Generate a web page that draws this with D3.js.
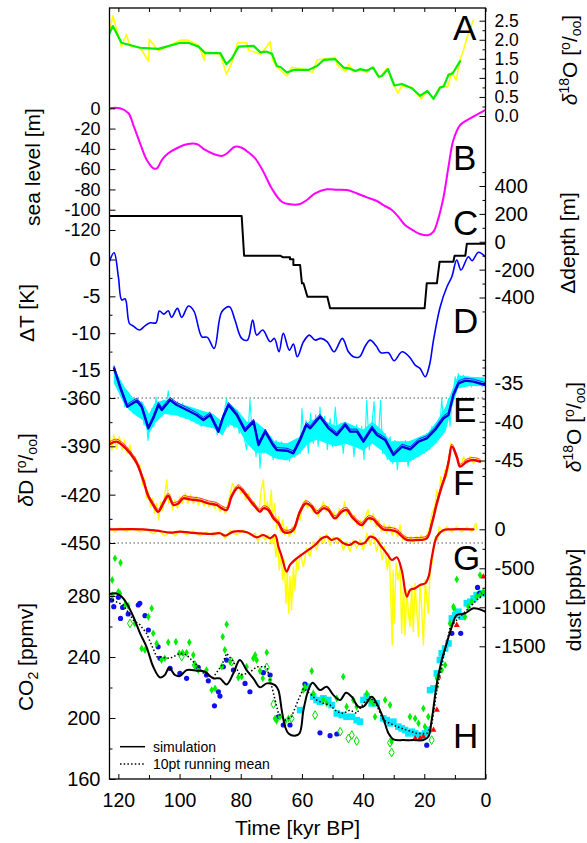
<!DOCTYPE html>
<html>
<head>
<meta charset="utf-8">
<script src="https://cdn.jsdelivr.net/npm/d3@7/dist/d3.min.js"></script>
<style>
html,body{margin:0;padding:0;background:#fff;}
svg{display:block;font-family:"Liberation Sans",Arial,Helvetica,sans-serif;}
</style>
</head>
<body>
<svg id="chart" width="587" height="843"></svg>
<script>
// ---------------- DATA ----------------
const timeTicks=[120,100,80,60,40,20,0];
const timeMinor=[110,90,70,50,30,10];
const benthicTicks=[0,0.5,1,1.5,2,2.5];
const benthicMinor=[0.25,0.75,1.25,1.75,2.25];
const seaTicks=[0,-20,-40,-60,-80,-100,-120];
const depthTicks=[400,200,0,-200,-400];
const depthMinor=[500,300,100,-100,-300,-500];
const tempTicks=[0,-5,-10,-15];
const tempMinor=[-2.5,-7.5,-12.5];
const d18OTicks=[-35,-40,-45];
const d18OMinor=[-32,-33,-34,-36,-37,-38,-39,-41,-42,-43,-44,-46,-47];
const dDTicks=[-360,-390,-420,-450];
const dDMinor=[-375,-405,-435];
const dustTicks=[0,-500,-1000,-1500];
const dustMinor=[-250,-750,-1250];
const co2Ticks=[160,200,240,280];
const co2Minor=[180,220,260];
const refLinesDD=[-360,-450];
const panelLetters=["A","B","C","D","E","F","G","H"];

// A: benthic d18O (raw, smoothed) [kyr BP, permil]
const benthicRaw=[[122.9,2.21],[121.8,2.63],[119.0,1.82],[117.4,2.14],[116.2,1.84],[112.9,1.79],[110.1,1.44],[109.9,2.01],[106.9,1.71],[99.8,1.99],[97.1,1.99],[93.8,1.86],[91.9,1.47],[91.6,1.69],[86.7,1.62],[84.7,1.10],[83.2,1.34],[81.0,1.92],[78.0,1.92],[77.5,1.73],[73.6,1.62],[71.5,1.82],[70.4,1.95],[69.6,1.47],[68.2,1.29],[64.9,1.05],[63.3,1.28],[58.4,1.21],[56.5,1.14],[55.1,1.47],[49.1,1.54],[48.5,1.34],[45.7,1.16],[44.7,1.36],[43.2,1.16],[40.9,1.21],[38.7,1.15],[37.1,1.29],[34.7,0.99],[32.3,1.25],[28.7,0.60],[27.3,0.79],[24.1,0.75],[21.1,0.45],[19.0,0.64],[17.0,0.45],[15.2,0.73],[13.7,0.81],[12.4,0.75],[11.0,1.16],[9.6,0.94],[8.3,1.47],[7.2,1.73],[5.6,2.17],[3.9,2.52]];
const benthicSmooth=[[122.9,2.17],[121.8,2.36],[119.0,1.92],[112.9,1.79],[106.9,1.76],[99.8,1.92],[97.1,1.92],[93.8,1.82],[91.6,1.65],[86.7,1.65],[84.7,1.36],[82.9,1.51],[80.7,1.82],[75.8,1.84],[73.6,1.67],[71.7,1.69],[69.8,1.63],[68.2,1.31],[66.9,1.28],[64.9,1.14],[62.7,1.21],[57.8,1.21],[55.1,1.31],[52.9,1.47],[49.1,1.49],[46.4,1.27],[44.7,1.25],[42.5,1.18],[40.9,1.23],[38.9,1.19],[36.7,1.27],[34.9,1.03],[33.9,1.05],[31.9,1.23],[29.8,0.80],[27.3,0.84],[24.1,0.73],[21.4,0.53],[19.0,0.66],[17.0,0.45],[14.8,0.75],[13.7,0.77],[12.1,1.08],[10.7,1.12],[8.3,1.44]];

// B: sea level [m]
const seaLevel=[[122.9,0],[119.5,0],[116.7,-4.9],[115.1,-16.5],[112.9,-34.5],[110.7,-51],[108.5,-59.2],[107.4,-59.2],[105.8,-51],[103.7,-44.4],[100.9,-39.4],[97.6,-35.5],[94.4,-35.2],[91.6,-41.1],[88.9,-45.1],[86.2,-47],[84.5,-44.4],[81.9,-37.9],[79.7,-38.9],[77.5,-43.4],[75.3,-49.3],[72.6,-62.5],[69.9,-78.9],[66.6,-92.1],[63.9,-94.7],[60.6,-94.4],[58.4,-90.4],[55.7,-83.8],[51.9,-79.9],[48.6,-80.2],[45.3,-80.6],[42.1,-83.8],[38.8,-87.8],[35.5,-91.4],[33.4,-95.4],[30.6,-100.3],[28.5,-106.9],[26.3,-115.1],[23.5,-120.7],[21.4,-124],[18.6,-125],[17.0,-121.7],[15.4,-108.5],[13.7,-87.2],[12.1,-57.6],[10.5,-31.3],[8.3,-16.5],[5.0,-9.9],[0.1,-1.7]];

// C: delta depth [m]
const depthC=[[122.9,185],[79.7,185],[78.9,-100],[67.1,-100],[66.3,-111],[63.9,-111],[63.9,-126],[62.8,-126],[62.8,-167],[60.6,-167],[60.0,-298],[59.5,-298],[58.2,-394],[51.7,-394],[50.8,-477],[19.9,-477],[19.2,-298],[15.9,-298],[15.0,-143],[10.5,-143],[10.1,-100],[6.6,-100],[6.1,-15],[0,-15]];

// D: delta T [K]
const tempD=[[122.96,-0.30],[121.4,0.92],[120.0,-2.34],[118.9,-5.50],[117.8,-5.33],[116.4,-8.67],[115.1,-9.04],[113.1,-9.58],[111.4,-9.04],[109.6,-8.59],[107.7,-8.59],[106.6,-7.00],[105.1,-7.41],[103.7,-6.96],[102.6,-7.85],[100.7,-6.63],[99.3,-7.85],[97.1,-6.32],[95.3,-7.00],[92.7,-10.49],[90.9,-10.57],[88.7,-12.07],[86.2,-7.09],[83.7,-6.41],[81.9,-8.22],[79.7,-10.71],[77.8,-10.94],[76.1,-8.22],[74.8,-10.26],[72.8,-9.58],[70.4,-11.17],[69.0,-10.71],[67.5,-12.53],[66.1,-10.03],[64.1,-12.30],[62.8,-11.48],[61.5,-13.21],[59.5,-11.17],[57.6,-10.26],[55.7,-10.94],[53.8,-10.71],[51.7,-11.17],[49.5,-12.53],[46.8,-10.71],[44.8,-12.53],[43.2,-13.21],[41.2,-13.21],[39.3,-11.75],[37.7,-10.94],[35.7,-11.75],[34.2,-12.66],[31.7,-12.66],[29.9,-13.75],[27.3,-12.53],[24.9,-13.21],[23.0,-14.33],[21.4,-14.78],[19.7,-15.92],[18.3,-14.33],[17.0,-10.94],[14.8,-6.41],[12.6,-3.70],[11.0,-2.34],[9.4,-0.07],[8.0,-1.43],[5.6,0.38],[4.4,-0.16],[2.3,0.98],[0.1,0.38]];

// E: ice-core d18O raw (cyan), dense band of raw data [t, upper, lower], model (blue)
const d18ORaw=[[121.7,-32.9],[121.1,-34.0],[120.6,-33.8],[120.0,-35.3],[119.5,-35.0],[118.9,-36.3],[118.4,-35.9],[117.9,-38.1],[117.3,-36.8],[116.4,-38.5],[115.7,-37.2],[114.9,-38.9],[114.0,-37.0],[113.2,-39.3],[112.4,-37.4],[111.6,-40.4],[111.0,-39.3],[110.3,-42.4],[109.7,-39.8],[109.0,-38.3],[108.4,-40.6],[107.7,-36.8],[107.1,-38.9],[106.4,-37.4],[105.8,-39.3],[105.1,-37.2],[104.5,-38.5],[103.7,-36.0],[102.9,-38.5],[102.3,-37.0],[101.5,-39.1],[100.7,-37.4],[99.9,-39.3],[99.0,-37.6],[98.1,-39.6],[97.3,-38.1],[96.4,-39.8],[95.5,-38.3],[94.6,-40.2],[93.8,-38.5],[92.9,-40.6],[92.0,-39.1],[91.2,-40.4],[90.3,-38.7],[89.4,-40.8],[88.5,-39.3],[87.7,-41.7],[86.8,-40.0],[85.9,-41.5],[85.3,-38.5],[84.6,-37.0],[84.0,-40.6],[83.1,-38.9],[82.2,-40.8],[81.3,-38.5],[80.5,-41.5],[79.6,-39.8],[78.7,-42.4],[78.1,-43.6],[77.4,-40.2],[77.0,-37.1],[76.3,-41.5],[75.7,-39.8],[75.0,-44.5],[74.4,-40.6],[73.7,-46.0],[73.1,-42.4],[72.4,-44.1],[71.7,-41.3],[71.0,-43.9],[70.2,-41.9],[69.4,-44.9],[68.5,-42.4],[67.6,-44.7],[66.7,-42.6],[65.9,-44.9],[65.0,-42.8],[64.1,-45.1],[63.2,-43.0],[62.4,-44.5],[61.5,-42.4],[60.6,-44.1],[60.0,-38.3],[59.3,-42.8],[58.7,-39.8],[57.9,-44.1],[57.2,-38.9],[56.3,-42.8],[55.5,-39.1],[54.7,-43.2],[54.1,-38.1],[53.3,-42.4],[52.6,-39.3],[51.7,-43.6],[50.8,-39.6],[50.0,-43.2],[49.1,-38.1],[48.2,-42.4],[47.3,-40.2],[46.5,-44.1],[45.6,-40.4],[44.7,-42.8],[43.8,-40.6],[43.0,-44.5],[42.1,-40.4],[41.2,-43.2],[40.5,-40.6],[39.7,-44.9],[38.8,-37.2],[38.0,-43.6],[37.2,-40.6],[36.4,-37.4],[35.8,-42.4],[34.9,-41.3],[34.3,-37.2],[33.6,-44.1],[32.8,-41.5],[32.1,-44.9],[31.2,-41.9],[30.3,-45.4],[29.6,-42.4],[28.8,-46.2],[27.9,-42.8],[27.1,-44.9],[26.2,-42.4],[25.3,-45.8],[24.4,-43.0],[23.6,-44.9],[22.7,-42.6],[21.8,-44.5],[21.0,-41.9],[20.1,-44.1],[19.2,-41.5],[18.3,-43.6],[17.5,-40.6],[16.6,-42.8],[15.9,-40.2],[15.1,-41.9],[14.3,-37.0],[13.5,-41.1],[12.9,-38.5],[12.1,-37.0],[11.6,-40.6],[11.0,-37.6],[10.5,-35.9],[9.9,-34.2],[9.4,-35.5],[8.9,-33.8],[8.1,-35.0],[7.2,-34.0],[6.3,-35.3],[5.5,-34.2],[4.6,-35.5],[3.7,-34.3],[2.9,-35.4],[2.0,-34.4],[1.1,-35.5],[0.3,-34.6]];
const d18OBand=[[121.5,-33.0,-35.0],[118,-35.5,-37.8],[115,-37.0,-39.0],[112,-37.5,-39.8],[110,-39.0,-41.5],[108,-37.5,-40.2],[105,-37.2,-39.0],[101,-37.5,-39.2],[97,-38.0,-39.7],[93,-38.5,-40.5],[89,-39.0,-40.8],[86,-40.0,-41.8],[84,-37.5,-40.3],[81,-38.5,-40.8],[78,-40.0,-42.8],[75,-40.0,-44.0],[72,-41.0,-44.0],[69,-42.5,-44.7],[65,-42.8,-45.0],[61,-42.0,-44.2],[58,-40.0,-42.8],[55,-39.5,-42.3],[52,-40.0,-42.8],[49,-40.5,-43.2],[46,-40.0,-42.8],[43,-40.5,-43.2],[40,-41.0,-43.7],[37,-40.0,-42.8],[34,-41.0,-43.7],[31,-42.5,-45.2],[28,-42.5,-45.2],[25,-42.5,-45.2],[22,-42.0,-44.5],[19,-41.5,-43.8],[16,-40.0,-42.7],[13,-38.0,-41.2],[11,-36.0,-38.2],[9,-34.0,-35.7],[5,-34.2,-35.4],[0.3,-34.3,-35.4]];
const d18OModel=[[121.4,-33.10],[119.5,-35.48],[117.1,-38.06],[114.0,-37.28],[112.4,-38.06],[110.2,-40.85],[108.6,-39.55],[106.9,-37.84],[105.8,-38.48],[103.1,-37.19],[100.9,-37.84],[97.6,-38.48],[94.4,-39.13],[92.2,-39.77],[90.0,-39.13],[87.3,-41.28],[85.7,-39.35],[84.0,-37.84],[81.3,-39.13],[78.6,-41.15],[75.8,-39.99],[74.2,-43.00],[72.0,-41.28],[69.5,-43.00],[68.2,-43.65],[64.9,-43.74],[62.8,-44.07],[60.6,-42.35],[58.6,-40.42],[57.3,-40.85],[54.1,-39.35],[51.3,-40.85],[48.6,-41.71],[45.9,-40.42],[44.2,-41.28],[42.0,-41.28],[39.9,-42.57],[37.1,-40.85],[35.5,-41.71],[32.8,-42.35],[30.1,-44.29],[27.3,-43.22],[24.6,-43.55],[21.9,-42.57],[19.2,-42.14],[16.5,-41.06],[13.7,-39.55],[12.1,-39.13],[10.5,-36.55],[8.8,-35.04],[6.6,-34.70],[3.9,-34.83],[0.1,-35.26]];

// F: deuterium raw (yellow) and model (red)
const dDRaw=[[122.8,-385.0],[122.1,-392.3],[121.5,-383.0],[120.6,-391.3],[119.7,-384.0],[118.8,-392.3],[118.0,-386.1],[117.1,-394.4],[116.2,-389.2],[115.4,-397.5],[114.5,-396.4],[113.6,-402.6],[113.0,-401.6],[112.1,-414.0],[111.4,-409.9],[110.8,-422.3],[110.1,-418.1],[109.5,-427.5],[108.8,-422.3],[108.2,-431.6],[107.5,-425.4],[106.8,-435.7],[106.2,-424.4],[105.5,-429.5],[104.9,-421.3],[104.2,-410.9],[103.6,-425.4],[102.9,-420.2],[102.3,-429.5],[101.6,-423.3],[100.7,-428.5],[99.9,-421.3],[99.0,-425.4],[98.1,-419.2],[97.3,-425.4],[96.4,-420.2],[95.5,-425.4],[94.6,-421.3],[93.8,-426.4],[92.9,-422.3],[92.0,-427.0],[91.2,-423.3],[90.3,-427.5],[89.4,-424.4],[88.5,-428.5],[87.7,-425.4],[86.8,-430.6],[85.9,-427.5],[85.0,-431.6],[84.2,-425.4],[83.5,-420.2],[82.7,-413.0],[81.8,-417.1],[80.9,-414.0],[80.0,-419.2],[79.2,-416.1],[78.3,-423.3],[77.4,-419.2],[76.5,-426.4],[75.7,-424.4],[74.8,-429.5],[73.9,-427.5],[73.3,-417.1],[72.6,-410.9],[72.0,-429.5],[71.3,-424.4],[70.7,-431.6],[70.0,-417.1],[69.6,-435.7],[68.9,-425.4],[68.3,-440.9],[67.6,-433.7],[67.0,-443.0],[66.3,-435.7],[65.6,-445.0],[65.0,-439.9],[64.1,-446.1],[63.2,-439.9],[62.4,-444.0],[61.5,-433.7],[60.6,-435.7],[59.8,-426.4],[58.9,-423.3],[58.2,-428.5],[57.4,-425.4],[56.5,-430.6],[55.6,-427.5],[54.7,-433.7],[53.9,-428.5],[53.0,-424.4],[52.1,-430.6],[51.3,-427.5],[50.4,-432.6],[49.5,-430.6],[48.6,-435.7],[47.8,-428.5],[46.9,-431.6],[46.0,-424.4],[45.4,-432.6],[44.5,-429.5],[43.6,-435.7],[42.8,-432.6],[41.9,-438.8],[41.0,-435.7],[40.1,-440.9],[39.3,-433.7],[38.4,-429.5],[37.5,-436.8],[36.7,-431.6],[35.8,-439.9],[34.9,-435.7],[34.0,-443.0],[33.2,-437.8],[32.3,-444.0],[31.4,-438.8],[30.5,-445.0],[29.7,-439.9],[28.8,-446.1],[27.9,-438.8],[27.1,-448.1],[26.2,-445.0],[25.3,-449.2],[24.4,-446.1],[23.6,-449.8],[22.7,-446.1],[21.8,-449.2],[21.0,-445.0],[20.1,-448.6],[19.2,-445.0],[18.3,-440.9],[17.5,-431.6],[16.6,-427.5],[15.9,-417.1],[15.3,-423.3],[14.6,-408.8],[14.0,-414.0],[13.3,-404.7],[12.7,-408.8],[12.0,-400.6],[11.4,-388.1],[10.5,-391.2],[9.6,-396.4],[8.9,-398.5],[8.1,-402.6],[7.2,-396.4],[6.1,-400.6],[5.0,-396.4],[3.9,-400.6],[2.9,-397.5],[1.2,-399.5]];
const dDModel=[[122.7,-388.5],[120.6,-387.1],[118.4,-389.8],[116.2,-394.3],[114.0,-400.5],[111.9,-410.9],[110.2,-421.2],[108.6,-426.4],[107.0,-430.6],[105.3,-425.4],[103.7,-420.8],[102.0,-426.4],[100.4,-425.4],[98.8,-422.3],[96.6,-422.9],[93.3,-423.7],[90.6,-425.4],[87.9,-426.4],[86.2,-428.5],[84.6,-429.5],[83.0,-421.3],[80.8,-415.5],[79.2,-418.1],[77.5,-422.3],[75.3,-427.5],[73.7,-430.6],[72.6,-428.5],[71.0,-429.5],[69.3,-434.7],[67.7,-437.8],[66.1,-443.0],[64.4,-443.6],[62.8,-441.9],[60.6,-430.6],[58.7,-425.4],[56.8,-427.5],[55.2,-431.6],[53.0,-428.5],[51.4,-429.5],[49.2,-434.7],[47.0,-430.6],[45.4,-429.5],[43.7,-433.7],[42.1,-436.8],[40.5,-438.8],[38.3,-434.7],[36.7,-435.3],[35.0,-438.8],[33.4,-441.5],[31.2,-441.9],[29.0,-443.0],[27.4,-445.7],[25.7,-448.1],[22.5,-448.1],[19.2,-447.1],[17.5,-437.8],[15.9,-425.4],[14.3,-415.0],[13.2,-408.8],[12.1,-400.0],[11.0,-390.2],[9.4,-396.5],[8.3,-402.6],[6.1,-399.5],[3.9,-398.5],[1.8,-399.5]];

// G: dust raw (yellow) and model (red) [ppbv]
const dustRaw=[[122.8,25],[121.1,-34],[119.5,17],[117.3,-26],[115.1,13],[112.9,-34],[110.8,0],[108.6,-60],[107.0,-9],[104.8,-85],[103.1,-26],[101.5,-85],[99.9,-17],[97.7,-73],[95.5,-21],[93.3,-85],[91.2,-34],[89.0,-85],[86.8,-30],[85.1,-115],[83.5,-17],[81.3,-73],[79.2,-9],[77.0,-73],[75.3,-51],[74.3,-158],[73.2,-51],[72.1,-137],[71.0,-73],[69.9,-188],[69.1,-73],[68.5,-350],[67.9,-158],[67.4,-521],[66.8,-308],[66.3,-649],[65.8,-393],[65.2,-948],[64.8,-521],[64.3,-1076],[63.9,-606],[63.4,-1033],[62.8,-478],[62.3,-777],[61.7,-393],[61.2,-521],[60.6,-308],[59.5,-478],[58.5,-244],[57.4,-350],[56.3,-158],[55.2,-265],[54.1,-94],[53.0,-179],[51.9,-60],[50.8,-201],[49.7,-94],[48.6,-179],[47.5,-115],[46.5,-265],[45.4,-158],[44.3,-286],[43.2,-137],[42.1,-244],[41.0,-137],[39.9,-265],[38.8,-51],[37.7,-201],[36.7,-51],[35.6,-286],[34.7,-115],[33.8,-393],[33.0,-222],[32.1,-521],[31.4,-308],[30.5,-1483],[30.2,-521],[29.9,-1205],[29.2,-436],[28.6,-649],[27.9,-478],[27.4,-1333],[26.8,-692],[26.3,-1354],[25.7,-777],[25.2,-1076],[24.7,-1248],[24.1,-734],[23.6,-1312],[23.0,-692],[22.5,-1033],[21.9,-1376],[21.4,-713],[20.9,-991],[20.3,-1483],[19.7,-649],[19.2,-905],[18.7,-1077],[18.1,-521],[17.5,-436],[16.8,-222],[16.4,-94],[15.7,-137],[15.1,34],[13.7,-43],[12.7,34],[11.0,-34],[9.4,34],[7.8,-34],[6.1,26],[4.5,-30],[3.1,77],[2.9,0]];
const dustModel=[[122.9,0],[111.8,0],[107.5,-17],[103.1,-43],[99.8,-30],[96.6,-43],[93.3,-51],[90.0,-60],[86.8,-51],[85.1,-81],[82.4,-30],[78.0,-38],[74.8,-103],[72.6,-73],[70.4,-115],[68.8,-73],[67.7,-222],[66.6,-350],[65.0,-542],[63.9,-457],[61.7,-372],[59.5,-308],[57.9,-265],[55.7,-201],[53.5,-115],[51.9,-94],[50.3,-137],[48.6,-115],[46.4,-179],[44.3,-201],[42.6,-158],[41.0,-188],[39.4,-171],[37.7,-94],[36.1,-115],[34.4,-201],[32.3,-308],[30.6,-393],[29.0,-359],[27.4,-521],[25.7,-863],[24.6,-777],[23.0,-756],[21.4,-713],[19.7,-692],[18.6,-606],[17.5,-350],[15.9,-94],[13.7,-9],[11.5,0],[3.9,0]];

// H: CO2 [ppmv]
const co2Sim=[[123.0,281.3],[120.6,281.7],[118.9,279.5],[117.3,275.2],[115.1,266.4],[112.9,255.5],[110.8,246.7],[108.6,233.6],[106.4,226.6],[104.8,228.2],[103.4,233.0],[101.5,228.2],[99.9,227.5],[97.7,231.4],[94.4,231.0],[91.7,230.3],[89.0,226.0],[86.8,226.0],[84.6,222.0],[82.4,229.3],[80.3,238.0],[78.1,231.4],[75.9,226.0],[73.7,220.1],[71.5,222.7],[68.8,221.6],[67.7,218.3],[66.6,205.2],[65.5,194.3],[64.4,189.9],[62.3,188.4],[60.8,189.9],[59.5,205.2],[57.9,218.3],[56.5,223.1],[54.1,218.3],[51.9,220.5],[49.7,215.0],[47.5,211.8],[45.6,216.6],[43.7,213.9],[41.6,207.4],[39.9,207.4],[37.2,213.9],[35.6,209.6],[33.4,199.7],[31.7,189.9],[30.1,186.0],[26.8,185.5],[23.6,185.5],[20.3,185.5],[18.7,187.7],[17.6,198.6],[15.9,222.7],[14.3,238.0],[12.7,248.9],[11.0,259.9],[9.4,267.5],[6.7,268.6],[3.9,271.9],[0.1,269.7]];
const co2Mean=[[123.0,278.4],[118.4,274.1],[115.1,264.2],[112.9,261.0],[110.8,255.5],[107.5,240.2],[103.1,239.1],[99.9,242.4],[97.7,241.3],[94.4,234.7],[91.7,228.2],[89.0,226.6],[86.2,234.7],[84.6,242.4],[82.4,236.9],[80.3,228.2],[77.5,229.3],[74.8,233.6],[71.5,233.6],[69.3,216.1],[67.7,203.0],[65.5,198.6],[63.4,200.8],[61.2,211.8],[59.5,219.4],[57.4,216.1],[55.2,211.8],[53.0,209.6],[50.8,208.5],[48.6,204.1],[46.5,203.0],[44.3,205.2],[42.1,203.0],[39.9,209.6],[37.7,213.9],[35.6,208.5],[33.4,198.6],[31.2,196.5],[29.0,194.3],[25.7,192.1],[22.5,189.9],[19.1,189.9],[17.5,196.5],[15.9,218.3],[13.7,240.2],[11.5,259.9],[9.4,264.2],[6.1,270.8],[2.9,277.3],[0.1,281.7]];
const co2Blue=[[122.2,277.3],[121.5,273.0],[120.0,279.1],[119.3,265.3],[118.6,272.5],[116.8,268.2],[113.5,274.1],[113.0,275.2],[111.3,267.1],[110.2,257.7],[107.0,246.7],[106.4,239.1],[103.1,232.5],[99.9,229.2],[97.7,226.0],[93.9,233.2],[91.2,228.2],[90.6,224.4],[88.6,208.0],[87.3,217.2],[86.8,214.4],[85.7,233.6],[84.6,238.0],[82.4,231.4],[78.6,222.7],[77.0,217.2],[72.6,229.7],[70.4,228.2],[67.7,200.8],[66.1,195.4],[63.9,195.4],[59.0,222.3],[54.1,190.3],[50.8,188.4],[48.6,189.5],[19.2,182.2],[11.0,255.5],[8.1,255.5],[2.6,285.6],[2.0,281.7]];
const co2Green=[[121.9,280.6],[119.5,281.7],[117.9,274.1],[114.6,262.0],[112.4,245.6],[111.3,244.6],[110.2,266.4],[108.6,255.5],[107.5,248.9],[105.9,238.0],[104.8,239.1],[103.7,249.6],[101.2,250.0],[100.1,242.4],[99.0,242.8],[97.7,242.8],[96.8,249.6],[95.5,241.3],[94.9,234.7],[93.9,231.4],[91.2,231.4],[89.5,218.3],[88.4,219.4],[86.2,233.6],[85.9,253.3],[85.2,244.6],[84.6,261.4],[83.5,236.9],[80.8,226.6],[79.7,227.1],[78.1,233.6],[75.9,239.1],[75.3,241.3],[74.8,238.0],[73.7,230.8],[72.8,226.0],[71.5,243.0],[70.4,224.9],[68.8,199.7],[68.3,198.2],[67.2,200.8],[65.5,197.6],[64.4,199.7],[59.5,218.3],[59.0,220.5],[56.8,230.8],[56.3,216.1],[53.0,211.8],[51.9,209.6],[48.6,212.8],[46.5,227.1],[45.4,207.4],[43.2,211.8],[42.1,207.4],[38.8,216.1],[37.7,211.8],[36.7,209.6],[36.1,200.8],[32.8,211.8],[31.2,208.5],[30.7,184.4],[24.7,200.8],[23.0,199.7],[21.9,196.5],[20.3,206.3],[19.8,194.3],[18.7,200.8],[15.9,220.5],[15.9,226.0],[14.3,231.4],[13.2,234.7],[11.6,262.0],[10.3,271.9],[6.7,266.4],[5.6,273.0],[4.5,276.2],[2.9,279.5],[1.8,280.6],[0.7,282.8],[121.1,304.7],[122.0,290.5],[119.3,301.8],[120.0,282.8],[116.8,273.4],[109.1,271.9],[9.4,290.9],[10.5,273.0],[1.8,293.7]];
const co2GreenOpen=[[116.2,262.0],[99.3,240.2],[95.0,234.7],[83.0,236.9],[71.5,233.2],[69.3,209.1],[63.4,199.7],[55.7,201.9],[47.5,191.0],[44.8,186.6],[43.7,188.8],[42.1,184.9],[31.2,183.8],[30.7,177.4],[17.6,185.5]];
const co2Cyan=[[60.6,205.2],[58.4,220.5],[56.3,214.0],[55.2,211.8],[54.1,210.7],[53.0,212.9],[51.4,211.8],[50.3,208.5],[48.6,203.0],[47.0,201.9],[45.4,200.8],[43.7,200.8],[42.1,198.6],[41.0,197.6],[39.9,211.8],[38.8,214.0],[37.2,209.6],[35.6,209.6],[33.4,199.7],[32.3,198.6],[31.2,196.5],[30.1,197.6],[28.5,194.3],[27.4,193.2],[26.3,192.1],[25.2,189.9],[24.1,191.0],[23.0,189.9],[21.9,188.8],[20.8,187.7],[19.8,189.9],[18.7,192.1],[18.1,218.3],[17.0,219.4],[15.9,229.2],[14.9,238.0],[14.3,242.4],[13.2,245.6],[12.1,248.9],[11.0,265.3],[9.9,267.5],[8.9,269.7],[7.8,266.4],[6.1,275.2],[5.0,276.2],[3.9,278.4],[2.9,280.6],[1.2,281.7]];
const co2Red=[[23.0,186.6],[21.4,186.6],[20.3,187.7],[17.0,192.1],[15.9,205.2],[15.4,227.1],[9.4,260.9],[0.7,292.6]];
const legendItems=["simulation","10pt running mean"];

// ---------------- LAYOUT / SCALES ----------------
const L=109.5,R=485.5,T=8,B=779;
const svg=d3.select("#chart");
const x=d3.scaleLinear().domain([122.9,0]).range([L,R]);
const yA=d3.scaleLinear().domain([0,2.5]).range([116,20.7]);
const yB=d3.scaleLinear().domain([0,-120]).range([108.3,230]);
const yC=d3.scaleLinear().domain([400,-400]).range([186,297.5]);
const yD=d3.scaleLinear().domain([0,-15]).range([259.5,370]);
const yE=d3.scaleLinear().domain([-35,-45]).range([383,460.5]);
const yF=d3.scaleLinear().domain([-360,-450]).range([398,543]);
const yG=d3.scaleLinear().domain([0,-1500]).range([529.3,646.3]);
const yH=d3.scaleLinear().domain([160,280]).range([779,596]);

svg.append("defs").append("clipPath").attr("id","clip")
  .append("rect").attr("x",L).attr("y",T).attr("width",R-L).attr("height",B-T);
const plot=svg.append("g").attr("clip-path","url(#clip)");

function drawLine(data,y,color,width,curve,opts){
  opts=opts||{};
  const p=plot.append("path").datum(data)
    .attr("d",d3.line().x(d=>x(d[0])).y(d=>y(d[1])).curve(curve||d3.curveLinear))
    .attr("fill","none").attr("stroke",color).attr("stroke-width",width)
    .attr("stroke-linejoin","round").attr("stroke-linecap","round");
  if(opts.dash) p.attr("stroke-dasharray",opts.dash).attr("stroke-linecap","butt");
  if(opts.dy) p.attr("transform","translate(0,"+opts.dy+")");
  return p;
}

// reference dotted lines
refLinesDD.forEach(v=>{
  plot.append("line").attr("x1",L).attr("x2",R).attr("y1",yF(v)).attr("y2",yF(v))
    .attr("stroke","#555").attr("stroke-width",1).attr("stroke-dasharray","1.5,2.5");
});

// A
drawLine(benthicRaw,yA,"#ffff00",1.6);
drawLine(benthicSmooth,yA,"#00ee00",2.2);
// B
drawLine(seaLevel,yB,"#ff00ff",2,d3.curveCatmullRom);
// C
drawLine(depthC,yC,"#000",2);
// D
drawLine(tempD,yD,"#0000ff",1.6,d3.curveCatmullRom);
// E
plot.append("path").datum(d18OBand)
  .attr("d",d3.area().x(d=>x(d[0])).y0(d=>yE(d[2])).y1(d=>yE(d[1])).curve(d3.curveLinear))
  .attr("fill","#00ffff");
drawLine(d18ORaw,yE,"#00ffff",1.1);
drawLine(d18OModel,yE,"#2222ff",1,d3.curveLinear,{dy:-2.5});
drawLine(d18OModel,yE,"#0000d8",2.4);
// F
drawLine(dDRaw,yF,"#ffff00",1.4);
drawLine(dDModel,yF,"#ff2a2a",1,d3.curveCatmullRom,{dy:-2.5});
drawLine(dDModel,yF,"#ee0000",2.4,d3.curveCatmullRom);
// G
drawLine(dustRaw,yG,"#ffff00",1.4);
drawLine(dustModel,yG,"#ee0000",2.2,d3.curveCatmullRom);

// H scatter
plot.append("g").selectAll("rect").data(co2Cyan).join("rect")
  .attr("x",d=>x(d[0])-3.3).attr("y",d=>yH(d[1])-3.3).attr("width",6.6).attr("height",6.6)
  .attr("fill","#00e8ff");
plot.append("g").selectAll("path").data(co2Red).join("path")
  .attr("d",d3.symbol(d3.symbolTriangle,16)).attr("transform",d=>`translate(${x(d[0])},${yH(d[1])})`)
  .attr("fill","#ff0000");
plot.append("g").selectAll("circle").data(co2Blue).join("circle")
  .attr("cx",d=>x(d[0])).attr("cy",d=>yH(d[1])).attr("r",2.6).attr("fill","#1010ee");
plot.append("g").selectAll("path").data(co2Green).join("path")
  .attr("d",d3.symbol(d3.symbolDiamond,18)).attr("transform",d=>`translate(${x(d[0])},${yH(d[1])})`)
  .attr("fill","#00ee00");
plot.append("g").selectAll("path").data(co2GreenOpen).join("path")
  .attr("d",d3.symbol(d3.symbolDiamond,22)).attr("transform",d=>`translate(${x(d[0])},${yH(d[1])})`)
  .attr("fill","none").attr("stroke","#00dd00").attr("stroke-width",1);
drawLine(co2Mean,yH,"#000",1.5,d3.curveLinear,{dash:"1.5,2.2"});
drawLine(co2Sim,yH,"#000",2,d3.curveCatmullRom);

// ---------------- AXES ----------------
const fmtInt=d=>String(d);
function styleAxis(g,fs){
  g.select(".domain").remove();
  g.attr("font-family",null).attr("font-size",null);
  g.selectAll("text").attr("font-size",fs||20).attr("fill","#000");
  g.selectAll("line").attr("stroke","#000");
}
function yAxis(side,y,major,minor,fmt,fs){
  const mk=side==="left"?d3.axisLeft:d3.axisRight;
  const tx=side==="left"?L:R;
  const g=svg.append("g").attr("transform",`translate(${tx},0)`)
    .call(mk(y).tickValues(major).tickSize(-6).tickPadding(9).tickFormat(fmt||fmtInt));
  styleAxis(g,fs||20);
  if(minor){
    const g2=svg.append("g").attr("transform",`translate(${tx},0)`)
      .call(mk(y).tickValues(minor).tickSize(-3).tickFormat(""));
    styleAxis(g2);
  }
}
yAxis("right",yA,benthicTicks,benthicMinor,d3.format(".1f"),17.5);
yAxis("left",yB,seaTicks,null,null,18);
yAxis("right",yC,depthTicks,depthMinor);
yAxis("left",yD,tempTicks,tempMinor);
yAxis("right",yE,d18OTicks,d18OMinor);
yAxis("left",yF,dDTicks,dDMinor);
yAxis("right",yG,dustTicks,dustMinor);
yAxis("left",yH,co2Ticks,co2Minor);

const gx=svg.append("g").attr("transform",`translate(0,${B})`)
  .call(d3.axisBottom(x).tickValues(timeTicks).tickSize(-5).tickPadding(14).tickFormat(fmtInt));
styleAxis(gx,19.5);
const gx2=svg.append("g").attr("transform",`translate(0,${B})`)
  .call(d3.axisBottom(x).tickValues(timeMinor).tickSize(-4).tickFormat(""));
styleAxis(gx2);
const gt=svg.append("g").attr("transform",`translate(0,${T})`)
  .call(d3.axisTop(x).tickValues(timeTicks.concat(timeMinor)).tickSize(-4).tickFormat(""));
styleAxis(gt);

// frame
svg.append("rect").attr("x",L).attr("y",T).attr("width",R-L).attr("height",B-T)
  .attr("fill","none").attr("stroke","#000").attr("stroke-width",1.3);

// x title
svg.append("text").attr("x",(L+R)/2).attr("y",835).attr("text-anchor","middle")
  .attr("font-size",21).text("Time [kyr BP]");

// panel letters
const letterPos=[[40],[170],[235],[333],[421.5],[495],[570],[748]];
panelLetters.forEach((s,i)=>{
  svg.append("text").attr("x",453).attr("y",letterPos[i][0]).attr("font-size",35).text(s);
});

// axis titles (rotated)
function vtitle(cx,cy,build){
  const t=svg.append("text").attr("transform",`translate(${cx},${cy}) rotate(-90)`)
    .attr("text-anchor","middle").attr("font-size",21);
  build(t);
}
function permil(t){
  t.append("tspan").text(" [");
  t.append("tspan").attr("dy",-7).attr("font-size",14).text("o");
  t.append("tspan").attr("dy",7).text("/");
  t.append("tspan").attr("dy",4).attr("font-size",14).text("oo");
  t.append("tspan").attr("dy",-4).text("]");
}
function d18O(t){
  t.append("tspan").attr("font-style","italic").text("δ");
  t.append("tspan").attr("dy",-8).attr("font-size",14).text("18");
  t.append("tspan").attr("dy",8).text("O");
  permil(t);
}
vtitle(577,60,d18O);
vtitle(575,243,t=>t.text("Δdepth [m]"));
vtitle(581,427,d18O);
vtitle(581,600,t=>t.text("dust [ppbv]"));
vtitle(40,167,t=>t.text("sea level [m]"));
vtitle(34,313,t=>t.text("ΔT [K]"));
vtitle(33,470,t=>{t.append("tspan").attr("font-style","italic").text("δ");t.append("tspan").text("D");permil(t);});
vtitle(33,657,t=>{t.append("tspan").text("CO");t.append("tspan").attr("dy",5).attr("font-size",14).text("2");t.append("tspan").attr("dy",-5).text(" [ppmv]");});

// legend
const lg=svg.append("g");
lg.append("line").attr("x1",120).attr("x2",145).attr("y1",746.7).attr("y2",746.7)
  .attr("stroke","#000").attr("stroke-width",1.5);
lg.append("line").attr("x1",120).attr("x2",145).attr("y1",764).attr("y2",764)
  .attr("stroke","#000").attr("stroke-width",1.5).attr("stroke-dasharray","1.5,2.2");
legendItems.forEach((s,i)=>{
  lg.append("text").attr("x",153).attr("y",746.7+i*17.3).attr("dy","0.35em")
    .attr("font-size",14).text(s);
});
</script>
</body>
</html>
